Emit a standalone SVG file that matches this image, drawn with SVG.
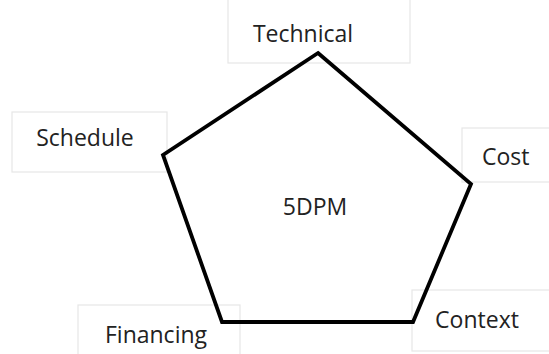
<svg xmlns="http://www.w3.org/2000/svg" width="549" height="354" viewBox="0 0 549 354">
<style>
.box{fill:#fff;stroke:#e6e6e6;stroke-width:1.2}
.lbl{font-family:"Open Sans","Liberation Sans",sans-serif;font-size:23px;fill:#222}
.shape{fill:none;stroke:#000;stroke-width:3.8;stroke-linejoin:miter}
</style>
<rect width="549" height="354" fill="#fff"/>
<g id="technical"><rect class="box" x="228" y="-5" width="182" height="68"/><text class="lbl" x="303" y="42" text-anchor="middle">Technical</text></g>
<g id="schedule"><rect class="box" x="12" y="112" width="155" height="60"/><text class="lbl" x="85" y="146" text-anchor="middle">Schedule</text></g>
<g id="cost"><rect class="box" x="462" y="128" width="95" height="54"/><text class="lbl" x="482" y="165">Cost</text></g>
<g id="financing"><rect class="box" x="78" y="305" width="162" height="60"/><text class="lbl" x="156" y="343" text-anchor="middle">Financing</text></g>
<g id="context"><rect class="box" x="412" y="290" width="150" height="61"/><text class="lbl" x="477" y="328" text-anchor="middle">Context</text></g>
<g id="connectors"><polygon class="shape" points="318,53 471,184 413,322 222,322 163,155"/></g>
<g id="center"><text class="lbl" x="315" y="215" text-anchor="middle">5DPM</text></g>
</svg>
